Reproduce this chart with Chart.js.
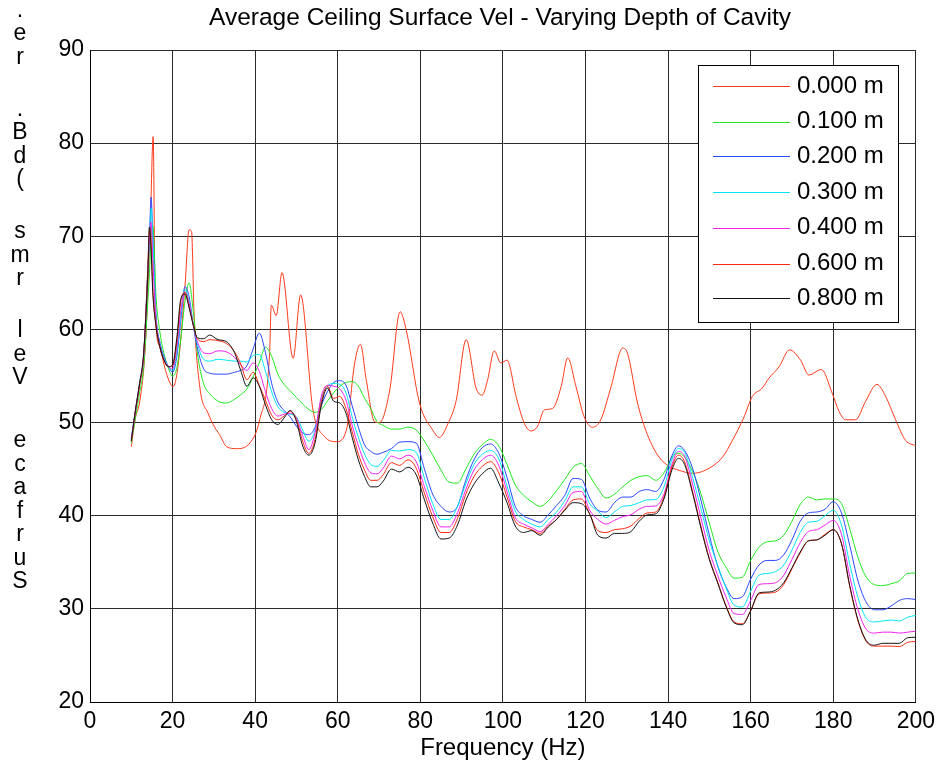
<!DOCTYPE html>
<html><head><meta charset="utf-8">
<script src="https://cdn.jsdelivr.net/npm/chart.js@4.4.1/dist/chart.umd.min.js"></script>
<style>html,body{margin:0;padding:0;background:#fff}canvas{display:block}</style>
</head><body>
<canvas id="c" width="941" height="766"></canvas>
<script>
// ---- data ----
const seriesLabels = ['0.000 m','0.100 m','0.200 m','0.300 m','0.400 m','0.600 m','0.800 m'];

// 0.000 m curve has its own frequency samples
const freqBare = [10, 10.9, 12.1, 13.3, 14.0, 14.6, 15.3, 15.8, 16.9, 18.5,
 20.1, 21.3, 23.0, 24.0, 24.6, 25.2, 26.6, 28.6, 30.2, 31.4,
 33.1, 35.5, 38.7, 41.1, 43.5, 43.9, 45.1, 46.5, 49.2, 51.0,
 54.0, 56.8, 59.7, 62.1, 64.1, 65.5, 66.9, 68.9, 70.1, 72.6,
 75.1, 76.6, 79.8, 83.0, 84.6, 86.7, 88.7, 91.1, 93.5, 95.0,
 96.3, 97.9, 99.5, 101, 103.2, 105.2, 106.8, 108.4, 110, 112,
 114.1, 115.7, 117.7, 119.7, 121.7, 123.7, 126.2, 129, 130.2, 132.6,
 135, 137.8, 140.3, 142.5, 145.9, 149.1, 153.2, 155.6, 158.4, 160.4,
 162.8, 164.4, 166.9, 169.4, 172.1, 174.1, 177.1, 179.8, 181.4, 183,
 185.4, 187.8, 190.6, 192.7, 195.1, 197.5, 200];
const depth000 = [47.4, 50.3, 52.4, 57.5, 64, 71, 80.7, 62, 58.1, 55.3,
 53.85, 56, 64.6, 70.7, 70.5, 61.8, 53.8, 51, 49.5, 48.7,
 47.4, 47.2, 47.8, 50.3, 57.5, 62.6, 61.5, 66.1, 56.9, 63.7,
 51.35, 48.5, 47.95, 49.2, 56.4, 58.4, 54.6, 50.1, 50.0, 53.5,
 61.9, 59.9, 52.1, 49.2, 48.4, 49.9, 52.4, 58.9, 53.7, 52.95,
 54.6, 57.7, 56.4, 56.7, 52.8, 49.9, 49.1, 49.6, 51.35, 51.5,
 53.85, 56.95, 53.85, 50.6, 49.5, 50.3, 53.85, 58.0, 57.4, 52.1,
 48.7, 46.3, 45.3, 44.9, 44.55, 44.9, 46.3, 48.1, 50.6, 52.8,
 53.7, 54.75, 56.0, 57.8, 56.7, 55.1, 55.7, 53.1, 51.2, 50.3,
 50.3, 52.25, 54.1, 52.8, 50.3, 48.1, 47.5];

// shared frequency samples for the other depths
const freqGrid = [10, 11, 12, 13, 14, 14.4, 14.8, 15.2, 16, 17,
 18, 19, 20, 21, 22, 23, 24, 25, 26, 27.5,
 29, 31, 33, 35, 36.5, 38, 39.5, 41, 42.5, 44,
 45.5, 47, 48.5, 50, 51.5, 53, 54.5, 56, 57.5, 59,
 60.5, 62, 63.5, 65, 66.5, 68, 69.5, 71, 73, 75,
 77, 79, 81, 83, 85, 87, 89, 91, 93, 95,
 97, 99, 101, 103, 105, 107, 109, 111, 113, 115,
 117, 119, 121, 123, 125, 127, 129, 131, 133, 135,
 137, 139, 141, 142.5, 144, 146, 148, 150, 152, 154,
 156, 158, 160, 162, 164, 166, 168, 170, 172, 174,
 176, 178, 180, 182, 184, 186, 188, 190, 192, 194,
 196, 198, 200];

const depth100 = [47.8, 50.5, 53.2, 56, 63, 66, 70, 71.2, 63.5, 59.5,
 57.3, 55.8, 55.0, 55.8, 59, 63, 65.0, 62, 57.5, 54.2,
 53.1, 52.3, 52.1, 52.5, 53.0, 53.6, 54.9, 56.4, 58.1, 57.1,
 55.2, 54.1, 53.4, 52.7, 52.0, 51.4, 51.1, 51.4, 52.3, 53.2,
 53.9, 54.3, 54.4, 53.9, 52.6, 51.5, 50.1, 49.7, 49.3, 49.3,
 49.5, 49.2, 48.0, 46.5, 44.9, 43.6, 43.5, 45.0, 46.6, 47.6,
 48.2, 47.5, 45.5, 43.3, 42.2, 41.5, 41.0, 41.6, 42.7, 43.9,
 45.2, 45.6, 44.3, 42.9, 41.9, 42.3, 43.1, 43.8, 44.2, 44.3,
 43.8, 44.6, 46.3, 46.7, 46.3, 44.7, 42.3, 39.2, 36.2, 34.5,
 33.3, 33.4, 35.2, 36.6, 37.2, 37.3, 37.9, 39.4, 41.2, 42.0,
 41.7, 41.8, 41.8, 41.3, 38.6, 35.5, 33.4, 32.6, 32.5, 32.7,
 33.0, 33.8, 33.85];

const depth200 = [48.3, 51.3, 54.2, 57.3, 66.5, 70, 74.2, 70, 61.5, 58.5,
 57, 56, 55.4, 57, 61, 64.6, 63.5, 60.5, 58, 55.8,
 55.3, 55.2, 55.2, 55.4, 55.6, 56.1, 57.9, 59.6, 57.5, 54.2,
 52.2, 51.3, 50.6, 49.6, 48.9, 48.7, 49.5, 51.8, 53.3, 54.3,
 54.5, 54.0, 51.8, 49.5, 47.6, 46.9, 46.6, 46.8, 47.2, 47.9,
 47.95, 47.8, 45.0, 42.3, 41.0, 40.4, 41.0, 43.8, 46.0, 47.3,
 47.7, 46.7, 44.1, 41.0, 40.0, 39.6, 39.3, 40.1, 41.1, 42.2,
 44.0, 43.9, 41.9, 40.6, 40.4, 41.4, 42.0, 42.0, 42.6, 42.8,
 42.6, 43.9, 46.5, 47.5, 47.0, 45.0, 41.6, 37.9, 34.6, 32.4,
 31.1, 31.3, 33.2, 34.7, 35.2, 35.2, 35.8, 37.4, 39.4, 40.3,
 40.4, 40.7, 41.5, 40.3, 36.8, 33.0, 30.7, 29.9, 29.9, 30.3,
 30.9, 31.1, 31.0];

const depth300 = [48.2, 51.2, 54.0, 57.0, 66, 69.5, 73, 70, 61.3, 58.2,
 56.8, 56, 55.6, 57.5, 61.5, 64.3, 63, 60.5, 58.5, 56.8,
 56.6, 56.8, 56.7, 56.6, 56.6, 56.5, 57.2, 57.3, 55.5, 53.3,
 51.7, 51.1, 50.9, 50.6, 49.2, 48.0, 49.2, 52.5, 53.9, 54.2,
 54.1, 53.2, 50.6, 48.4, 46.6, 45.5, 45.3, 45.9, 47.0, 46.95,
 47.1, 46.8, 44.0, 41.3, 39.6, 39.6, 41.0, 43.4, 45.5, 46.6,
 47.0, 46.1, 43.2, 40.5, 39.6, 39.1, 38.8, 39.6, 40.4, 41.6,
 43.1, 43.1, 41.3, 40.5, 39.8, 40.4, 41.0, 41.1, 41.4, 41.7,
 41.75, 43.1, 46.1, 47.2, 46.8, 44.0, 40.7, 37.3, 34.7, 32.3,
 30.4, 30.2, 31.9, 33.6, 33.8, 34.0, 34.7, 36.3, 38.2, 39.3,
 39.4, 40.0, 40.6, 39.0, 34.8, 31.2, 29.0, 28.6, 28.7, 28.8,
 28.7, 29.1, 29.3];

const depth400 = [48.1, 51.2, 54.0, 57.2, 66, 70, 71.5, 67.5, 61, 58,
 56.7, 56, 55.8, 58, 62, 64, 62.8, 60.5, 58.7, 57.5,
 57.4, 57.7, 57.6, 57.0, 56.2, 55.6, 56.4, 55.5, 53.3, 51.5,
 50.7, 50.9, 51.0, 50.5, 48.6, 47.1, 48.9, 52.8, 54.0, 53.9,
 53.6, 52.4, 49.7, 47.5, 45.7, 44.6, 44.5, 45.1, 46.4, 46.1,
 46.5, 45.8, 43.1, 40.6, 38.8, 38.8, 40.3, 42.8, 44.9, 46.0,
 46.5, 45.4, 42.6, 39.8, 39.1, 38.7, 38.3, 39.1, 40.0, 41.1,
 42.5, 42.6, 40.6, 39.6, 39.1, 39.5, 39.9, 40.1, 40.7, 41.0,
 41.05, 42.3, 45.6, 46.9, 46.4, 43.3, 39.7, 36.2, 33.6, 31.3,
 29.5, 29.4, 30.9, 32.6, 32.7, 32.8, 33.6, 35.3, 37.1, 38.3,
 38.5, 39.0, 39.5, 38.0, 33.5, 29.9, 27.8, 27.4, 27.5, 27.5,
 27.4, 27.5, 27.6];

const depth600 = [48.0, 51.2, 54.0, 57.3, 66.5, 70.8, 69.5, 64.5, 60.4, 58,
 56.6, 56, 56.1, 58.6, 63, 64, 62.5, 60.5, 59, 58.7,
 58.9, 58.8, 58.5, 57.6, 56.3, 54.6, 55.4, 54.0, 52.4, 50.8,
 50.3, 50.7, 51.2, 50.3, 48.0, 46.7, 48.2, 52.2, 53.9, 52.6,
 52.8, 51.5, 49.0, 46.6, 44.9, 43.8, 43.8, 44.4, 45.7, 45.4,
 46.0, 45.1, 42.4, 39.9, 38.2, 38.2, 39.7, 42.3, 44.2, 45.3,
 45.8, 44.6, 42.0, 39.4, 38.8, 38.5, 38.1, 38.9, 39.6, 40.7,
 41.7, 41.8, 40.2, 38.4, 38.2, 38.5, 38.6, 38.9, 39.7, 40.3,
 40.4, 42.0, 45.3, 46.5, 45.8, 42.5, 38.8, 35.4, 32.9, 30.4,
 28.6, 28.4, 29.8, 31.6, 31.7, 31.8, 32.6, 34.3, 36.0, 37.3,
 37.4, 38.0, 38.5, 37.0, 32.4, 28.7, 26.5, 26.0, 26.0, 26.0,
 25.95, 26.4, 26.5];

const depth800 = [48.0, 51.3, 54.2, 57.5, 66, 71.0, 68.5, 64, 60.3, 58,
 56.6, 56, 56.2, 59, 63.3, 63.8, 62.3, 60.5, 59.1, 59.0,
 59.4, 58.9, 58.7, 57.5, 55.6, 53.9, 54.8, 53.9, 51.9, 50.3,
 49.8, 50.5, 51.3, 50.1, 47.5, 46.5, 47.8, 51.8, 53.7, 52.3,
 52.1, 51.0, 48.4, 46.0, 44.2, 43.1, 43.1, 43.7, 45.0, 44.7,
 45.2, 44.4, 41.7, 39.2, 37.5, 37.6, 39.0, 41.6, 43.4, 44.5,
 45.1, 43.5, 41.4, 38.9, 38.2, 38.4, 37.9, 38.8, 39.6, 40.6,
 41.4, 41.3, 40.2, 37.9, 37.6, 38.1, 38.1, 38.3, 39.4, 40.1,
 40.2, 41.8, 45.0, 46.15, 45.5, 42.3, 38.6, 35.3, 32.8, 30.3,
 28.5, 28.3, 29.8, 31.7, 31.8, 32.0, 32.8, 34.4, 36.1, 37.3,
 37.4, 37.9, 38.5, 37.0, 32.5, 28.8, 26.6, 26.1, 26.3, 26.3,
 26.3, 26.9, 26.95];

const xTicks = [0, 20, 40, 60, 80, 100, 120, 140, 160, 180, 200];
const yTicks = [20, 30, 40, 50, 60, 70, 80, 90];

const chartTitle = 'Average Ceiling Surface Vel - Varying Depth of Cavity';
const xTitle = 'Frequency (Hz)';
const yTitle = 'Surface Vel rms (dB. re.';   // drawn as stacked characters, bottom to top

// ---- styling ----
const FONT = '"Liberation Sans", Arial, Helvetica, sans-serif';
const seriesColors = ['#ff3a1c', '#1ee81e', '#2a46ff', '#00e6f0', '#f022f0', '#ff2a10', '#141414'];

function toPts(xs, ys) { return xs.map((x, i) => ({x: x, y: ys[i]})); }

const seriesValues = [depth000, depth100, depth200, depth300, depth400, depth600, depth800];
const datasets = seriesValues.map((vals, i) => ({
  label: seriesLabels[i],
  data: toPts(i === 0 ? freqBare : freqGrid, vals),
  borderColor: seriesColors[i],
  backgroundColor: seriesColors[i],
  borderWidth: 1,
  pointRadius: 0,
  cubicInterpolationMode: 'monotone',
  fill: false,
  order: seriesValues.length - 1 - i
}));

const decor = {
  id: 'decor',
  beforeDraw(chart) {
    const c = chart.ctx;
    c.save(); c.fillStyle = '#fff'; c.fillRect(0, 0, chart.width, chart.height); c.restore();
  },
  afterDraw(chart) {
    const c = chart.ctx;
    c.save();
    // title
    c.fillStyle = '#000';
    c.font = '24.5px ' + FONT;
    c.textAlign = 'center';
    c.textBaseline = 'middle';
    c.fillText(chartTitle, 500, 18);
    // y label: stacked characters, read bottom to top
    c.font = '23px ' + FONT;
    c.textBaseline = 'alphabetic';
    const pitch = 23.5;
    const spaceExtra = [16, 5, 5, 5];
    let y = 588, sp = 0;
    yTitle.split('').forEach((ch, i) => {
      if (i > 0) y -= pitch;
      if (ch === ' ') { y -= (spaceExtra[sp++] || 5); return; }
      c.fillText(ch, 20, y);
    });
    // legend
    const lx = 698, ly = 65, lw = 200, lh = 257;
    c.fillStyle = '#fff';
    c.fillRect(lx, ly, lw, lh);
    c.strokeStyle = '#000';
    c.lineWidth = 1;
    c.strokeRect(lx + 0.5, ly + 0.5, lw, lh);
    c.font = '24px ' + FONT;
    c.textAlign = 'left';
    c.textBaseline = 'middle';
    chart.data.datasets.forEach((d, i) => {
      const yy = 86 + 35.4 * i;
      const row = 2 * Math.round(yy / 2);
      c.strokeStyle = d.borderColor;
      c.lineWidth = 1.2;
      c.beginPath();
      c.moveTo(713, row + 0.5);
      c.lineTo(790, row + 0.5);
      c.stroke();
      c.fillStyle = '#000';
      c.fillText(d.label, 797, yy);
    });
    c.restore();
  }
};

new Chart(document.getElementById('c'), {
  type: 'line',
  data: { datasets: datasets },
  plugins: [decor],
  options: {
    responsive: false,
    animation: false,
    events: [],
    layout: { padding: { top: 50, right: 24, left: 0, bottom: 0 } },
    plugins: { legend: { display: false }, title: { display: false }, tooltip: { enabled: false } },
    scales: {
      x: {
        type: 'linear', min: 0, max: 200,
        afterBuildTicks: s => { s.ticks = xTicks.map(v => ({ value: v })); },
        afterFit: s => { s.height = 64; },
        grid: { color: '#2a2a2a', lineWidth: 1, drawTicks: false },
        border: { color: '#000', width: 1 },
        ticks: { font: { family: FONT, size: 23 }, color: '#000', padding: 6, maxRotation: 0, autoSkip: false },
        title: { display: true, text: xTitle, color: '#000', font: { family: FONT, size: 24 }, padding: { top: 0, bottom: 3 } }
      },
      y: {
        type: 'linear', min: 20, max: 90,
        afterBuildTicks: s => { s.ticks = yTicks.map(v => ({ value: v })); },
        afterFit: s => { s.width = 90; },
        grid: { color: '#2a2a2a', lineWidth: 1, drawTicks: false },
        border: { color: '#000', width: 1 },
        ticks: { font: { family: FONT, size: 23 }, color: '#000', padding: 6, autoSkip: false }
      }
    }
  }
});
</script>
</body></html>
